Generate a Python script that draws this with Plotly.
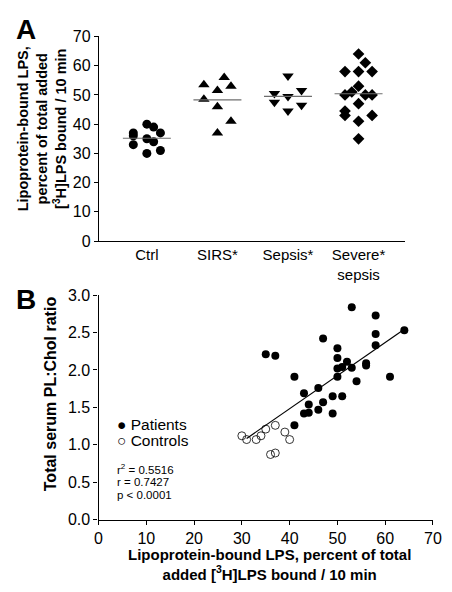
import numpy as np
import plotly.graph_objects as go

# ---------------- Panel A data ----------------
groups = ["Ctrl", "SIRS*", "Sepsis*", "Severe*<br>sepsis"]
ctrl_vals = [37, 36, 33, 40, 39, 37, 35, 34, 30, 31]
ctrl_cols = [-2, -2, -2, 0, 1, 2, 0, 1, 0, 2]
sirs_vals = [53.5, 56, 51.5, 53, 48.5, 46, 41, 37]
sirs_cols = [-2, 1, 0, 2, -2, 0, 2, 0]
sepsis_vals = [56.5, 50.5, 49.5, 51.5, 47.5, 46.5, 44.5]
sepsis_cols = [0, -2, 0, 2, -2, 2, 0]
severe_vals = [64, 61, 58, 58, 58, 53, 51, 50, 50, 50, 47, 44.5, 43, 43, 41, 35]
severe_cols = [0, 1, -2, 0, 2, 0, -1, -2, 1, 2, 0, -2, -2, 2, 0, 0]

# ---------------- Panel B data ----------------
patients_x = [53, 58, 64, 58, 47, 58, 50, 35, 37, 50, 52, 51, 50, 53, 56, 56,
              41, 50, 61, 54, 46, 43, 49, 51, 44, 47, 46, 43, 44, 49, 41]
patients_y = [2.84, 2.73, 2.53, 2.48, 2.42, 2.33, 2.29, 2.21, 2.19, 2.16, 2.11, 2.04, 2.02, 2.03, 2.09, 2.06,
              1.91, 1.91, 1.91, 1.85, 1.76, 1.69, 1.65, 1.65, 1.54, 1.57, 1.47, 1.42, 1.43, 1.42, 1.26]
controls_x = [30, 31, 33, 34, 35, 37, 39, 40, 36, 37]
controls_y = [1.12, 1.07, 1.07, 1.12, 1.21, 1.26, 1.17, 1.07, 0.87, 0.89]
stats_text = ["r<sup>2</sup> = 0.5516", "r = 0.7427", "p < 0.0001"]

FONT = "Arial, 'Liberation Sans', Helvetica, sans-serif"
W, H = 452, 592
JIT = 0.096      # column spacing in category units
HALF = 0.34      # half-width of mean line

fig = go.Figure()

sets = [
    (ctrl_vals, ctrl_cols, "circle", 9),
    (sirs_vals, sirs_cols, "triangle-up", 10),
    (sepsis_vals, sepsis_cols, "triangle-down", 10),
    (severe_vals, severe_cols, "diamond", 9),
]
for i, (vals, cols, sym, sz) in enumerate(sets):
    xs = [i + c * JIT for c in cols]
    fig.add_trace(go.Scatter(
        x=xs, y=vals, mode="markers", xaxis="x", yaxis="y", showlegend=False,
        marker=dict(symbol=sym, size=sz, color="black", line=dict(width=0)),
    ))
    m = float(np.mean(vals))
    fig.add_trace(go.Scatter(
        x=[i - HALF, i + HALF], y=[m, m], mode="lines", xaxis="x", yaxis="y",
        showlegend=False, line=dict(color="#6e6e6e", width=1.1),
    ))

# Panel B
fig.add_trace(go.Scatter(
    x=patients_x, y=patients_y, mode="markers", xaxis="x2", yaxis="y2", showlegend=False,
    marker=dict(symbol="circle", size=8, color="black", line=dict(width=0)),
))
fig.add_trace(go.Scatter(
    x=controls_x, y=controls_y, mode="markers", xaxis="x2", yaxis="y2", showlegend=False,
    marker=dict(symbol="circle-open", size=8, color="black", line=dict(width=0.8)),
))
allx = np.array(patients_x + controls_x, dtype=float)
ally = np.array(patients_y + controls_y, dtype=float)
slope, icpt = np.polyfit(allx, ally, 1)
lx = np.array([allx.min() + 1, allx.max()])
fig.add_trace(go.Scatter(
    x=lx, y=slope * lx + icpt, mode="lines", xaxis="x2", yaxis="y2", showlegend=False,
    line=dict(color="black", width=1.2),
))

def px_x(p):
    return p / W

def px_y(p):
    return 1 - p / H

axis_common = dict(
    showgrid=False, zeroline=False, showline=True, linecolor="black", linewidth=1.2,
    tickfont=dict(family=FONT, size=16, color="black"),
)

fig.update_layout(
    width=W, height=H,
    margin=dict(l=0, r=0, t=0, b=0),
    paper_bgcolor="white", plot_bgcolor="white",
    font=dict(family=FONT, color="black"),
    xaxis=dict(
        domain=[px_x(97.7), px_x(413)], range=[-0.68, 3.66],
        tickvals=[0, 1, 2, 3], ticktext=groups, ticks="", anchor="y",
        **{k: v for k, v in axis_common.items() if k != "tickfont"},
        tickfont=dict(family=FONT, size=15, color="black"),
    ),
    yaxis=dict(
        domain=[px_y(240), px_y(29.3)], range=[0, 70], dtick=10,
        ticks="outside", ticklen=4, tickwidth=1.2, tickcolor="black", anchor="x",
        **axis_common,
    ),
    xaxis2=dict(
        domain=[px_x(97.3), px_x(441.7)], range=[0, 70], dtick=10,
        ticks="outside", ticklen=4, tickwidth=1.2, tickcolor="black", anchor="y2",
        **axis_common,
    ),
    yaxis2=dict(
        domain=[px_y(526.7), px_y(295.7)], range=[0, 3.0], dtick=0.5, tickformat=".1f",
        ticks="outside", ticklen=4, tickwidth=1.2, tickcolor="black", anchor="x2",
        **axis_common,
    ),
)

ann = []
# panel letters
ann.append(dict(text="<b>A</b>", x=px_x(10), y=px_y(22), xanchor="left", yanchor="middle",
                font=dict(size=28, family=FONT)))
ann.append(dict(text="<b>B</b>", x=px_x(10), y=px_y(300), xanchor="left", yanchor="middle",
                font=dict(size=28, family=FONT)))
# panel A y title
ann.append(dict(text="<b>Lipoprotein-bound LPS,<br>percent of total added<br>[<sup>3</sup>H]LPS bound / 10 min</b>",
                x=px_x(40), y=px_y(124), xanchor="center", yanchor="middle", textangle=-90,
                font=dict(size=14.5, family=FONT)))
# panel B y title
ann.append(dict(text="<b>Total serum PL:Chol ratio</b>",
                x=px_x(48), y=px_y(397), xanchor="center", yanchor="middle", textangle=-90,
                font=dict(size=16, family=FONT)))
# panel B x title
ann.append(dict(text="<b>Lipoprotein-bound LPS, percent of total<br>added [<sup>3</sup>H]LPS bound / 10 min</b>",
                x=px_x(273), y=px_y(573), xanchor="center", yanchor="middle",
                font=dict(size=15, family=FONT)))
# legend
ann.append(dict(text="● Patients", x=px_x(114), y=px_y(429), xanchor="left", yanchor="middle",
                font=dict(size=15.5, family=FONT)))
ann.append(dict(text="○ Controls", x=px_x(114), y=px_y(445), xanchor="left", yanchor="middle",
                font=dict(size=15.5, family=FONT)))
for i, t in enumerate(stats_text):
    ann.append(dict(text=t, x=px_x(114), y=px_y(475 + 13 * i), xanchor="left", yanchor="middle",
                    font=dict(size=11.5, family=FONT)))
for a in ann:
    a.update(xref="paper", yref="paper", showarrow=False)
fig.update_layout(annotations=ann)

fig.write_html("out.html")
